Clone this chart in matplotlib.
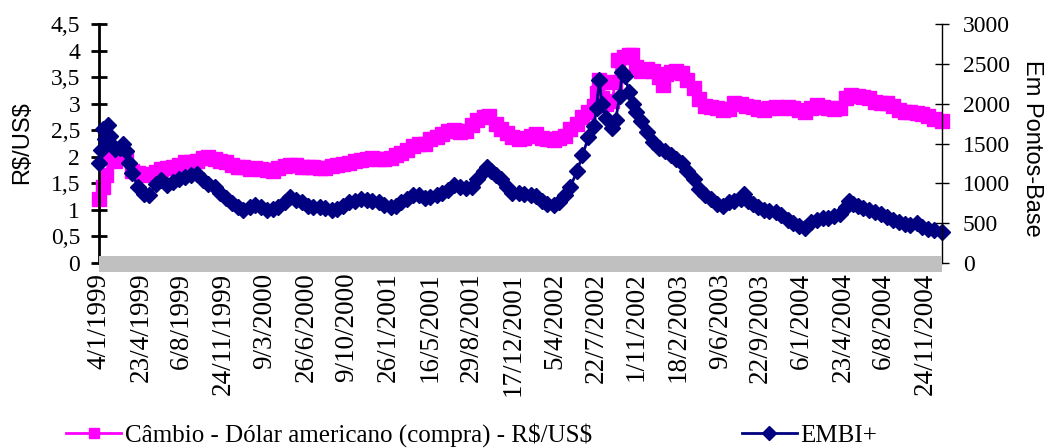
import matplotlib
matplotlib.use('Agg')
import matplotlib.pyplot as plt
from matplotlib.patches import Rectangle
import numpy as np
import pandas as pd

# Câmbio - R$/US$ (left axis)
cambio_dates = [
    '1999-01-04', '1999-01-15', '1999-01-22', '1999-02-01', '1999-02-15', '1999-03-01', '1999-03-15',
    '1999-04-01', '1999-04-15', '1999-05-01', '1999-05-15', '1999-06-01', '1999-06-15', '1999-07-01',
    '1999-07-15', '1999-08-01', '1999-08-15', '1999-09-01', '1999-09-15', '1999-10-01', '1999-10-15',
    '1999-11-01', '1999-11-15', '1999-12-01', '1999-12-15',
    '2000-01-01', '2000-01-15', '2000-02-01', '2000-02-15', '2000-03-01', '2000-03-15', '2000-04-01',
    '2000-04-15', '2000-05-01', '2000-05-15', '2000-06-01', '2000-06-15', '2000-07-01', '2000-07-15',
    '2000-08-01', '2000-08-15', '2000-09-01', '2000-09-15', '2000-10-01', '2000-10-15', '2000-11-01',
    '2000-11-15', '2000-12-01', '2000-12-15',
    '2001-01-01', '2001-01-15', '2001-02-01', '2001-02-15', '2001-03-01', '2001-03-15', '2001-04-01',
    '2001-04-15', '2001-05-01', '2001-05-15', '2001-06-01', '2001-06-15', '2001-07-01', '2001-07-15',
    '2001-08-01', '2001-08-15', '2001-09-01', '2001-09-15', '2001-10-01', '2001-10-15', '2001-11-01',
    '2001-11-15', '2001-12-01', '2001-12-15',
    '2002-01-01', '2002-01-15', '2002-02-01', '2002-02-15', '2002-03-01', '2002-03-15', '2002-04-01',
    '2002-04-15', '2002-05-01', '2002-05-15', '2002-06-01', '2002-06-15', '2002-07-01', '2002-07-15',
    '2002-07-22', '2002-07-29', '2002-08-01', '2002-08-05', '2002-08-15', '2002-09-01', '2002-09-08',
    '2002-09-15', '2002-10-01', '2002-10-15', '2002-10-22', '2002-11-01', '2002-11-15', '2002-12-01',
    '2002-12-15',
    '2003-01-01', '2003-01-10', '2003-01-20', '2003-02-01', '2003-02-15', '2003-03-01', '2003-03-15',
    '2003-04-01', '2003-04-15', '2003-05-01', '2003-05-15', '2003-06-01', '2003-06-15', '2003-07-01',
    '2003-07-15', '2003-08-01', '2003-08-15', '2003-09-01', '2003-09-15', '2003-10-01', '2003-10-15',
    '2003-11-01', '2003-11-15', '2003-12-01', '2003-12-15',
    '2004-01-01', '2004-01-15', '2004-02-01', '2004-02-15', '2004-03-01', '2004-03-15', '2004-04-01',
    '2004-04-15', '2004-05-01', '2004-05-15', '2004-06-01', '2004-06-15', '2004-07-01', '2004-07-15',
    '2004-08-01', '2004-08-15', '2004-09-01', '2004-09-15', '2004-10-01', '2004-10-15', '2004-11-01',
    '2004-11-15', '2004-12-01', '2004-12-15', '2005-01-06',
]
cambio_values = [
    1.21, 1.43, 1.66, 1.98, 1.92, 2.10, 2.00,
    1.74, 1.70, 1.66, 1.68, 1.72, 1.77, 1.79,
    1.80, 1.84, 1.90, 1.90, 1.93, 1.97, 2.00,
    1.96, 1.93, 1.90, 1.85,
    1.81, 1.80, 1.77, 1.78, 1.77, 1.75, 1.74,
    1.78, 1.82, 1.85, 1.84, 1.80, 1.80, 1.80,
    1.79, 1.79, 1.82, 1.84, 1.86, 1.89, 1.92,
    1.94, 1.96, 1.97,
    1.96, 1.96, 1.97, 2.04, 2.08, 2.13, 2.21,
    2.25, 2.24, 2.33, 2.38, 2.42, 2.48, 2.50,
    2.46, 2.48, 2.60, 2.70, 2.75, 2.76, 2.62,
    2.52, 2.45, 2.38,
    2.33, 2.36, 2.40, 2.42, 2.36, 2.34, 2.32,
    2.36, 2.40, 2.52, 2.62, 2.75, 2.85, 2.95,
    3.20, 3.45, 3.40, 3.10, 3.00, 3.05, 3.40,
    3.82, 3.88, 3.92, 3.92, 3.70, 3.62, 3.66,
    3.62,
    3.50, 3.35, 3.55, 3.60, 3.62, 3.58, 3.45,
    3.30, 3.08, 2.96, 2.94, 2.92, 2.88, 2.90,
    3.02, 3.00, 2.96, 2.94, 2.90, 2.88, 2.92,
    2.93, 2.92, 2.94, 2.91,
    2.89, 2.84, 2.92, 2.97, 2.93, 2.91, 2.90,
    2.92, 3.10, 3.17, 3.14, 3.12, 3.10, 3.04,
    3.02, 3.02, 2.95, 2.89, 2.85, 2.85, 2.82,
    2.80, 2.76, 2.72, 2.68,
]

# EMBI+ in basis points (right axis)
embi_dates = [
    '1999-01-04', '1999-01-08', '1999-01-14', '1999-01-20', '1999-01-27', '1999-02-01', '1999-02-08',
    '1999-02-15', '1999-03-01', '1999-03-08', '1999-03-15', '1999-03-22', '1999-04-01', '1999-04-15',
    '1999-05-01', '1999-05-15', '1999-06-01', '1999-06-15', '1999-07-01', '1999-07-15', '1999-08-01',
    '1999-08-15', '1999-09-01', '1999-09-15', '1999-10-01', '1999-10-15', '1999-11-01', '1999-11-15',
    '1999-12-01', '1999-12-15',
    '2000-01-01', '2000-01-15', '2000-02-01', '2000-02-15', '2000-03-01', '2000-03-15', '2000-04-01',
    '2000-04-15', '2000-05-01', '2000-05-15', '2000-06-01', '2000-06-15', '2000-07-01', '2000-07-15',
    '2000-08-01', '2000-08-15', '2000-09-01', '2000-09-15', '2000-10-01', '2000-10-15', '2000-11-01',
    '2000-11-15', '2000-12-01', '2000-12-15',
    '2001-01-01', '2001-01-15', '2001-02-01', '2001-02-15', '2001-03-01', '2001-03-15', '2001-04-01',
    '2001-04-15', '2001-05-01', '2001-05-15', '2001-06-01', '2001-06-15', '2001-07-01', '2001-07-15',
    '2001-08-01', '2001-08-15', '2001-09-01', '2001-09-15', '2001-10-01', '2001-10-10', '2001-10-20',
    '2001-11-01', '2001-11-15', '2001-12-01', '2001-12-15',
    '2002-01-01', '2002-01-15', '2002-02-01', '2002-02-15', '2002-03-01', '2002-03-15', '2002-04-01',
    '2002-04-15', '2002-05-01', '2002-05-15', '2002-06-01', '2002-06-15', '2002-07-01', '2002-07-15',
    '2002-07-22', '2002-07-29', '2002-08-05', '2002-08-15', '2002-09-01', '2002-09-10', '2002-09-20',
    '2002-09-27', '2002-10-03', '2002-10-15', '2002-10-25', '2002-11-01', '2002-11-15', '2002-12-01',
    '2002-12-15',
    '2003-01-01', '2003-01-15', '2003-02-01', '2003-02-15', '2003-03-01', '2003-03-15', '2003-04-01',
    '2003-04-15', '2003-05-01', '2003-05-15', '2003-06-01', '2003-06-15', '2003-07-01', '2003-07-15',
    '2003-08-01', '2003-08-10', '2003-08-20', '2003-09-01', '2003-09-15', '2003-10-01', '2003-10-15',
    '2003-11-01', '2003-11-15', '2003-12-01', '2003-12-15',
    '2004-01-01', '2004-01-15', '2004-02-01', '2004-02-15', '2004-03-01', '2004-03-15', '2004-04-01',
    '2004-04-15', '2004-05-01', '2004-05-10', '2004-05-20', '2004-06-01', '2004-06-15', '2004-07-01',
    '2004-07-15', '2004-08-01', '2004-08-15', '2004-09-01', '2004-09-15', '2004-10-01', '2004-10-15',
    '2004-11-01', '2004-11-15', '2004-12-01', '2004-12-15', '2005-01-06',
]
embi_values = [
    1250, 1420, 1680, 1560, 1730, 1600, 1480,
    1430, 1440, 1500, 1400, 1250, 1130, 950,
    870, 850, 990, 1040, 980, 1020, 1060,
    1080, 1110, 1120, 1040, 990, 950, 880,
    810, 750,
    700, 660, 700, 730, 700, 660, 680,
    700, 760, 830, 790, 760, 720, 700,
    700, 690, 670, 680, 720, 760, 780,
    800, 790, 780,
    760, 730, 700, 720, 760, 800, 850,
    860, 820, 830, 850, 880, 920, 980,
    950, 940, 960, 1050, 1150, 1210, 1150,
    1100, 1050, 950, 880,
    880, 870, 850, 840, 780, 740, 730,
    760, 850, 960, 1150, 1350, 1580, 1720,
    1950, 2300, 2000, 1820, 1700, 1800, 2100,
    2400, 2350, 2150, 2000, 1900, 1780, 1650,
    1520,
    1440, 1400, 1360, 1300, 1250, 1150, 1050,
    930, 850, 800, 740, 720, 760, 780,
    800, 870, 780, 740, 700, 670, 650,
    640, 600, 540, 500,
    460, 440, 520, 540, 560, 560, 590,
    620, 700, 780, 740, 720, 690, 670,
    640, 610, 580, 540, 510, 490, 480,
    500, 450, 430, 410, 390,
]

tick_dates = [
    '1999-01-04', '1999-04-23', '1999-08-06', '1999-11-24', '2000-03-09', '2000-06-26', '2000-10-09',
    '2001-01-26', '2001-05-16', '2001-08-29', '2001-12-17', '2002-04-05', '2002-07-22', '2002-11-01',
    '2003-02-18', '2003-06-09', '2003-09-22', '2004-01-06', '2004-04-23', '2004-08-06', '2004-11-24',
]

left_ticks = [0, 0.5, 1, 1.5, 2, 2.5, 3, 3.5, 4, 4.5]
right_ticks = [0, 500, 1000, 1500, 2000, 2500, 3000]

plt.rcParams['font.family'] = 'Liberation Serif'

fig = plt.figure(figsize=(10.44, 4.48), dpi=100)
ax = fig.add_axes([0.0948, 0.4129, 0.8075, 0.5335])
ax2 = ax.twinx()

pink, = ax.plot(pd.to_datetime(cambio_dates), cambio_values, color='#FF00FF', lw=2,
                marker='s', ms=9.5, mec='#FF00FF', mfc='#FF00FF', clip_on=False)
navy, = ax2.plot(pd.to_datetime(embi_dates), embi_values, color='#000080', lw=2,
                 marker='D', ms=8.5, mec='#000080', mfc='#000080', clip_on=False)

ax.set_xlim(pd.Timestamp('1999-01-04'), pd.Timestamp('2005-01-06'))
ax.set_ylim(0, 4.5)
ax2.set_ylim(0, 3000)

ax.set_yticks(left_ticks)
ax.set_yticklabels([('%g' % v).replace('.', ',') for v in left_ticks])
ax2.set_yticks(right_ticks)
ax2.set_yticklabels([str(v) for v in right_ticks])

td = pd.to_datetime(tick_dates)
ax.set_xticks(td)
ax.set_xticklabels([f'{d.day}/{d.month}/{d.year}' for d in td], rotation=90, fontsize=19.5)
ax.tick_params(axis='x', length=0, pad=7)
ax.tick_params(axis='y', direction='inout', length=11, width=2, pad=8, labelsize=17)
ax2.tick_params(axis='y', direction='inout', length=10, width=1, pad=10, labelsize=17)

for s in ['top', 'bottom', 'right']:
    ax.spines[s].set_visible(False)
for s in ['top', 'bottom', 'left']:
    ax2.spines[s].set_visible(False)
ax.spines['left'].set_linewidth(2)
ax2.spines['right'].set_linewidth(1)

# grey floor strip along the zero line
ax2.add_patch(Rectangle((0, -0.038), 1.0, 0.067, transform=ax2.transAxes,
                        facecolor='#C0C0C0', edgecolor='none', clip_on=False, zorder=5))

fig.text(22 / 1044, 1 - 143 / 448, r'R\$/US\$', rotation=90, family='Liberation Sans',
         fontsize=17, ha='center', va='center')
fig.text(1032 / 1044, 1 - 148 / 448, 'Em Pontos-Base', rotation=-90, family='Liberation Sans',
         fontsize=17, ha='center', va='center')

fig.legend([pink, navy], [r'Câmbio - Dólar americano (compra) - R\$/US\$', 'EMBI+'],
           loc='center left', bbox_to_anchor=(66 / 1044, 1 - 435 / 448), ncol=2,
           frameon=False, fontsize=18, handlelength=2.2, handletextpad=0.15,
           columnspacing=6.0, borderpad=0, borderaxespad=0, markerscale=0.8)

fig.savefig('out.png', dpi=100)
